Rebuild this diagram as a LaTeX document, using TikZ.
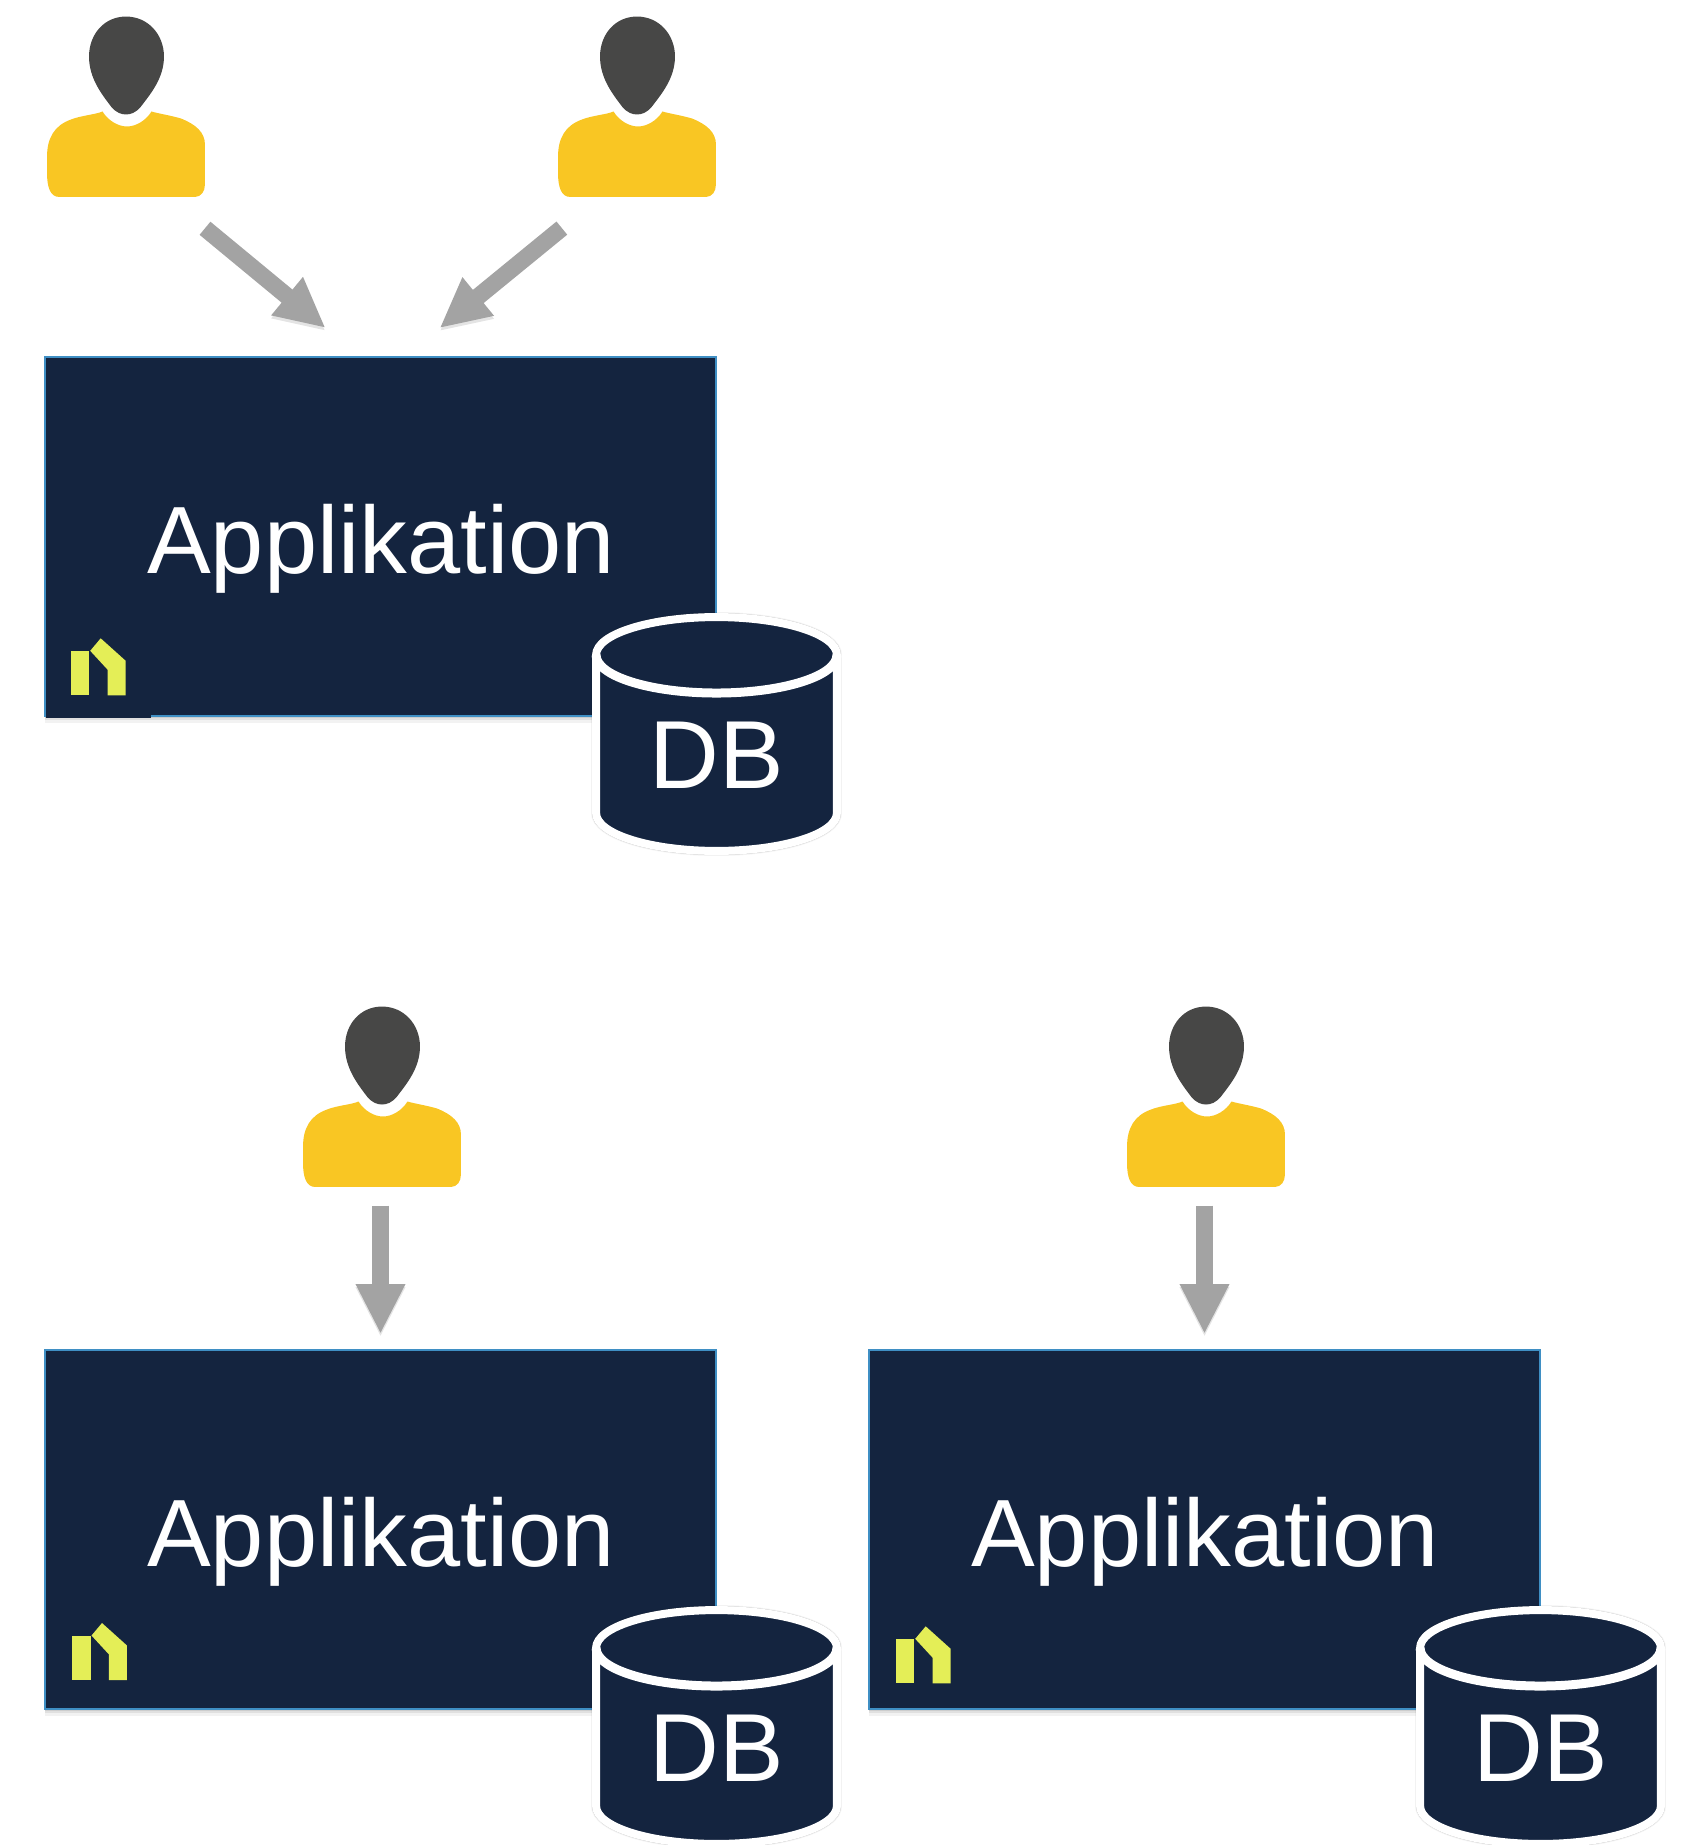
\documentclass[tikz,border=0pt]{standalone}
\usepackage{fontspec}
\setmainfont{Liberation Sans}
\usetikzlibrary{arrows.meta,shadows}
\definecolor{appblue}{HTML}{14243F}
\definecolor{edgeblue}{HTML}{3F8FC4}
\definecolor{headgray}{HTML}{474746}
\definecolor{bodyyellow}{HTML}{F9C623}
\definecolor{logolime}{HTML}{E4EE57}
\definecolor{flowgray}{HTML}{A3A3A3}
\tikzset{
	softshadow/.style={drop shadow={shadow xshift=0cm, shadow yshift=-.02cm, opacity=.2}, drop shadow={shadow xshift=0cm, shadow yshift=-.04cm, opacity=.16}, drop shadow={shadow xshift=0cm, shadow yshift=-.07cm, opacity=.1}},
	appbox/.style={draw=edgeblue, line width=.02cm, fill=appblue, minimum width=6.71cm, minimum height=3.59cm, inner sep=0pt, softshadow},
	applabel/.style={text=white, inner sep=0pt, anchor=base, font=\fontsize{27.2}{32}\selectfont},
	dbbody/.style={insert path={(-120.5,79) arc[start angle=180, end angle=0, x radius=120.5, y radius=38] -- (120.5,-79) arc[start angle=0, end angle=-180, x radius=120.5, y radius=38] -- cycle}},
	dbcyl/.style={minimum width=2.7cm, minimum height=2.7cm, inner sep=0pt, path picture={
		\begin{scope}[x=.01cm,y=.01cm]
		\path[fill=black, draw=black, line width=.08cm, opacity=.1, yshift=-.09cm, dbbody];
		\path[fill=black, draw=black, line width=.08cm, opacity=.12, yshift=-.06cm, dbbody];
		\path[fill=black, draw=black, line width=.08cm, opacity=.12, yshift=-.03cm, dbbody];
		\path[fill=black, draw=black, line width=.1cm, opacity=.05, dbbody];
		\draw[white, line width=.08cm, fill=appblue, line join=round, dbbody];
		\draw[white, line width=.09cm] (-120.5,79) arc[start angle=180, end angle=360, x radius=120.5, y radius=38];
		\end{scope}}},
	dblabel/.style={text=white, inner sep=0pt, anchor=base, font=\fontsize{27.5}{32}\selectfont},
	person/.style={minimum width=1.58cm, minimum height=1.81cm, inner sep=0pt, path picture={
		\begin{scope}[x=.01cm,y=-.01cm]
		\fill[bodyyellow] (-23.5,5) .. controls (-30,8) and (-45,9) .. (-55,13) .. controls (-72,19) and (-79,32) .. (-79,50) -- (-79,67) .. controls (-79,80) and (-76,90.5) .. (-67,90.5) -- (69,90.5) .. controls (75,90.5) and (79,85) .. (79,78) -- (79,38) .. controls (79,26) and (70,18) .. (55,12) .. controls (45,9) and (32,7) .. (25.5,5) .. controls (20,14) and (10,20) .. (1,20) .. controls (-8,20) and (-18,14) .. (-23.5,5) -- cycle;
		\fill[headgray] (0,-90) .. controls (-22,-90) and (-37,-72) .. (-37,-50) .. controls (-37,-28) and (-24,-12) .. (-15,0) .. controls (-10,6) and (-5,8) .. (0,8) .. controls (5,8) and (10,6) .. (15,0) .. controls (24,-12) and (38,-28) .. (38,-50) .. controls (38,-72) and (22,-90) .. (0,-90) -- cycle;
		\end{scope}}},
	logomark/.style={minimum width=.56cm, minimum height=.58cm, inner sep=0pt, path picture={
		\begin{scope}[x=.01cm,y=.01cm]
		\fill[logolime] (-28,-29) rectangle (-9.5,15.5);
		\fill[logolime] (2,28) -- (27,5.5) -- (27,-29) -- (9,-29) -- (9,-3.5) -- (-8.5,15.5) -- cycle;
		\end{scope}}},
	flow/.style={draw=flowgray, line width=.17cm, -{Triangle[width=.46cm,length=.5cm]}, preaction={draw=black!35, opacity=.3, transform canvas={yshift=-.03cm}}}
}
\begin{document}
\begin{tikzpicture}
	\useasboundingbox (0,0) rectangle (16.85,-18.45);
	% users
	\node[person] (user1) at (1.26,-1.065) {};
	\node[person] (user2) at (6.37,-1.065) {};
	\node[person] (user3) at (3.82,-10.965) {};
	\node[person] (user4) at (12.06,-10.965) {};
	% applications
	\node[appbox] (app1) at (3.805,-5.365) {};
	\node[appbox] (app2) at (3.805,-15.295) {};
	\node[appbox] (app3) at (12.045,-15.295) {};
	\node[applabel] (lab1) at (3.81,-5.73) {Applikation};
	\node[applabel] (lab2) at (3.81,-15.66) {Applikation};
	\node[applabel] (lab3) at (12.05,-15.66) {Applikation};
	% logos
	\node[fill=appblue, minimum width=1.05cm, minimum height=1.03cm, inner sep=0pt, anchor=south west] (corner1) at (.45,-7.19) {};
	\node[logomark, anchor=south west] (logo1) at (.70,-6.96) {};
	\node[logomark, anchor=south west] (logo2) at (.713,-16.807) {};
	\node[logomark, anchor=south west] (logo3) at (8.95,-16.84) {};
	% databases
	\node[dbcyl] (db1) at (7.165,-7.34) {};
	\node[dbcyl] (db2) at (7.165,-17.27) {};
	\node[dbcyl] (db3) at (15.405,-17.27) {};
	\node[dblabel] (dblab1) at (7.17,-7.88) {DB};
	\node[dblabel] (dblab2) at (7.17,-17.81) {DB};
	\node[dblabel] (dblab3) at (15.41,-17.81) {DB};
	% arrows
	\draw[flow, shorten <=.48cm, shorten >=.44cm] ([xshift=.42cm]user1.south) -- ([xshift=-.21cm]app1.north);
	\draw[flow, shorten <=.48cm, shorten >=.44cm] ([xshift=-.38cm]user2.south) -- ([xshift=.25cm]app1.north);
	\draw[flow, shorten <=.18cm, shorten >=.15cm] (user3.south -| app2.north) -- (app2.north);
	\draw[flow, shorten <=.18cm, shorten >=.15cm] (user4.south -| app3.north) -- (app3.north);
\end{tikzpicture}
\end{document}
